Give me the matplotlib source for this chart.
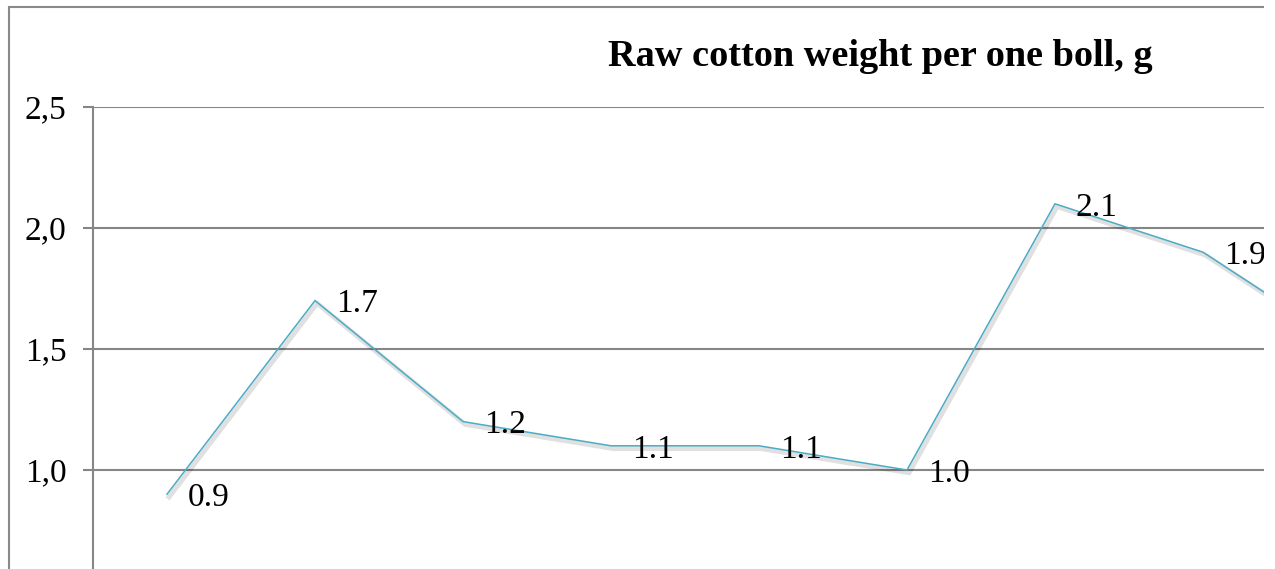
import matplotlib
matplotlib.use("Agg")
import matplotlib.pyplot as plt
import matplotlib.patheffects as pe
from matplotlib.patches import Rectangle
from matplotlib.ticker import FuncFormatter

# data (last point is cut off in the reference; estimated from the line slope)
categories = list(range(1, 10))
values = [0.9, 1.7, 1.2, 1.1, 1.1, 1.0, 2.1, 1.9, 1.5]
labels = ["0.9", "1.7", "1.2", "1.1", "1.1", "1.0", "2.1", "1.9", "1.5"]
yticks = [1.0, 1.5, 2.0, 2.5]
title = "Raw cotton weight per one boll, g"

W, H = 1275, 569
fig = plt.figure(figsize=(W / 100, H / 100), dpi=100)
plt.rcParams['font.family'] = ['Liberation Serif', 'DejaVu Serif']

# axes geometry in pixels
ax_left, ax_top = 93, 107
px_per_unit = 242
ymin, ymax = 0.0, 2.5
ax_h = (ymax - ymin) * px_per_unit
cat_w = 148
ax_w = cat_w * len(categories)
ax = fig.add_axes([ax_left / W, 1 - (ax_top + ax_h) / H, ax_w / W, ax_h / H])

x = list(range(len(categories)))
ax.plot(x, values, color="#4BACC6", lw=1.1, solid_joinstyle="miter",
        path_effects=[pe.SimpleLineShadow(offset=(1.5, -2.0), shadow_color="black", alpha=0.12, linewidth=3.5),
                      pe.Normal()], zorder=3)
for xi, v, lab in zip(x, values, labels):
    ax.annotate(lab, (xi, v), xytext=(15, 0), textcoords="offset points",
                ha="left", va="center_baseline", fontsize=24, color="black", zorder=4)

ax.set_xlim(-0.5, len(categories) - 0.5)
ax.set_ylim(ymin, ymax)
ax.set_yticks(yticks)
ax.yaxis.set_major_formatter(FuncFormatter(lambda v, p: f"{v:.1f}".replace(".", ",")))
ax.set_xticks([])
ax.grid(axis="y", color="#868686", lw=1.5)
ax.set_axisbelow(True)
ax.tick_params(axis="y", length=7, width=1.5, color="#868686", labelsize=24, pad=12)
for s in ["top", "right", "bottom"]:
    ax.spines[s].set_visible(False)
ax.spines["left"].set_color("#868686")
ax.spines["left"].set_linewidth(1.5)

fig.text(880 / W, 1 - 56 / H, title, ha="center", va="center",
         fontsize=27.5, fontweight="bold")

# outer chart border
fig.add_artist(Rectangle((8.5 / W, -0.5), 2, (1 - 7.5 / H) + 0.5, transform=fig.transFigure,
                         fill=False, edgecolor="#898989", lw=1.5, zorder=5))
# cropped right margin
fig.add_artist(Rectangle((1264 / W, -0.1), 1, 1.2, transform=fig.transFigure,
                         facecolor="white", edgecolor="none", zorder=10))

fig.savefig("out.png", dpi=100)
